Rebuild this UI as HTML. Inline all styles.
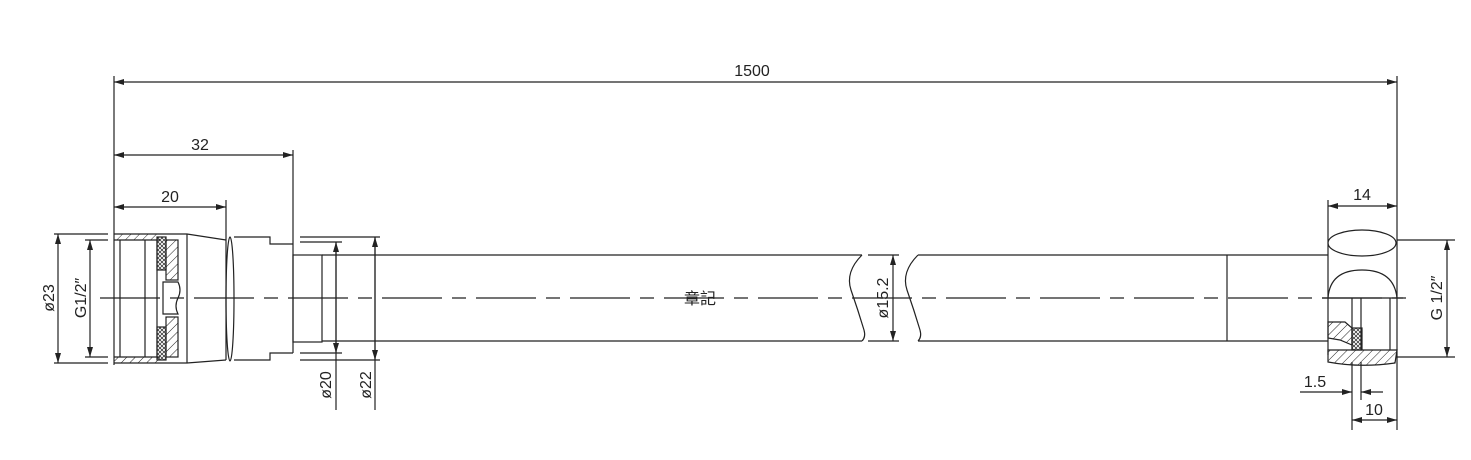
<!DOCTYPE html>
<html><head><meta charset="utf-8"><style>
html,body{margin:0;padding:0;background:#fff;}
svg{display:block;}
text{font-family:"Liberation Sans","Noto Sans CJK TC",sans-serif;fill:#222;font-size:16px;}
</style></head><body>
<svg width="1471" height="460" viewBox="0 0 1471 460" xmlns="http://www.w3.org/2000/svg">
<defs>
<pattern id="h" width="6" height="6" patternUnits="userSpaceOnUse" patternTransform="rotate(45)"><line x1="0" y1="0" x2="0" y2="6" stroke="#222" stroke-width="1"/></pattern>
<pattern id="m" width="4" height="4" patternUnits="userSpaceOnUse"><path d="M0 0L4 4M4 0L0 4" stroke="#222" stroke-width="0.7"/></pattern>
<marker id="a" viewBox="0 0 10 6" refX="10" refY="3" markerWidth="10" markerHeight="6" orient="auto-start-reverse" markerUnits="userSpaceOnUse"><path d="M0 0L10 3L0 6z" fill="#222"/></marker>
</defs>
<g stroke="#222" stroke-width="1.2" fill="none">
<!-- center line -->
<line x1="100" y1="298" x2="1410" y2="298" stroke-dasharray="60,10,14,10"/>
<!-- top dims -->
<line x1="114" y1="76" x2="114" y2="365"/>
<line x1="1397" y1="76" x2="1397" y2="430"/>
<line x1="114" y1="82" x2="1397" y2="82" marker-start="url(#a)" marker-end="url(#a)"/>
<line x1="293" y1="150" x2="293" y2="244"/>
<line x1="114" y1="155" x2="293" y2="155" marker-start="url(#a)" marker-end="url(#a)"/>
<line x1="226" y1="200" x2="226" y2="240"/>
<line x1="114" y1="207" x2="226" y2="207" marker-start="url(#a)" marker-end="url(#a)"/>
<!-- left diameters -->
<line x1="54" y1="234" x2="108" y2="234"/><line x1="54" y1="363" x2="108" y2="363"/>
<line x1="58" y1="234" x2="58" y2="363" marker-start="url(#a)" marker-end="url(#a)"/>
<line x1="85" y1="240" x2="108" y2="240"/><line x1="85" y1="357" x2="108" y2="357"/>
<line x1="90" y1="240" x2="90" y2="357" marker-start="url(#a)" marker-end="url(#a)"/>
<!-- left nut -->
<path d="M114 234 L187 234 L226 240 M114 363 L187 363 L226 360"/>
<line x1="114" y1="240" x2="160" y2="240"/><line x1="114" y1="357" x2="160" y2="357"/>
<rect x="114" y="234" width="46" height="6" fill="url(#h)" stroke="none"/>
<rect x="114" y="357" width="46" height="6" fill="url(#h)" stroke="none"/>
<line x1="120" y1="240" x2="120" y2="357"/>
<line x1="145" y1="240" x2="145" y2="357"/>
<line x1="157" y1="240" x2="157" y2="357"/>
<rect x="157" y="237" width="9" height="33" fill="url(#m)"/>
<rect x="157" y="327" width="9" height="33" fill="url(#m)"/>
<rect x="166" y="240" width="12" height="40" fill="url(#h)"/>
<rect x="166" y="317" width="12" height="40" fill="url(#h)"/>
<path d="M163 282 L178 282 Q182 290 178 298 Q174 306 178 314 L163 314 Z"/>
<line x1="187" y1="234" x2="187" y2="363"/>
<line x1="226" y1="240" x2="226" y2="360"/>
<ellipse cx="230" cy="299" rx="4" ry="62"/>
<!-- body -->
<path d="M234 237 L270 237 L270 244 L293 244 M234 360 L270 360 L270 353 L293 353"/>
<line x1="293" y1="244" x2="293" y2="353"/>
<rect x="293" y="255" width="29" height="87"/>
<!-- d20 d22 -->
<line x1="300" y1="242" x2="342" y2="242"/><line x1="300" y1="353" x2="342" y2="353"/>
<line x1="336" y1="242" x2="336" y2="410" /><line x1="336" y1="242" x2="336" y2="353" marker-start="url(#a)" marker-end="url(#a)"/>
<line x1="300" y1="237" x2="380" y2="237"/><line x1="300" y1="360" x2="380" y2="360"/>
<line x1="375" y1="237" x2="375" y2="410"/><line x1="375" y1="237" x2="375" y2="360" marker-start="url(#a)" marker-end="url(#a)"/>
<!-- hose -->
<line x1="322" y1="255" x2="862" y2="255"/><line x1="322" y1="341" x2="862" y2="341"/>
<path d="M862 255 Q845 272 851 290 Q858 310 864 330 Q866 337 862 341"/>
<line x1="868" y1="255" x2="899" y2="255"/><line x1="868" y1="341" x2="899" y2="341"/>
<line x1="893" y1="255" x2="893" y2="341" marker-start="url(#a)" marker-end="url(#a)"/>
<path d="M918 255 Q901 272 907 290 Q914 310 920 330 Q922 337 918 341"/>
<line x1="918" y1="255" x2="1328" y2="255"/><line x1="918" y1="341" x2="1328" y2="341"/>
<line x1="1227" y1="255" x2="1227" y2="341"/>
<!-- right fitting -->
<line x1="1328" y1="200" x2="1328" y2="355"/>
<line x1="1328" y1="206" x2="1397" y2="206" marker-start="url(#a)" marker-end="url(#a)"/>
<ellipse cx="1362" cy="243" rx="34" ry="13"/>
<path d="M1328 298 Q1330 270 1362 270 Q1394 270 1397 298"/>
<line x1="1322" y1="298" x2="1403" y2="298"/>
<line x1="1352" y1="298" x2="1352" y2="350"/><line x1="1361" y1="298" x2="1361" y2="350"/>
<line x1="1390" y1="298" x2="1390" y2="350"/>
<path d="M1328 355 L1328 362 Q1360 368 1395 363 L1397 350 L1328 350 Z" fill="url(#h)"/>
<path d="M1328 322 L1345 322 L1352 328 L1352 345 L1340 340 L1328 338 Z" fill="url(#h)"/>
<rect x="1352" y="328" width="10" height="22" fill="url(#m)"/>
<line x1="1397" y1="240" x2="1455" y2="240"/><line x1="1397" y1="357" x2="1455" y2="357"/>
<line x1="1447" y1="240" x2="1447" y2="357" marker-start="url(#a)" marker-end="url(#a)"/>
<line x1="1352" y1="362" x2="1352" y2="430"/><line x1="1361" y1="362" x2="1361" y2="400"/>
<line x1="1300" y1="392" x2="1352" y2="392" marker-end="url(#a)"/>
<line x1="1383" y1="392" x2="1361" y2="392" marker-end="url(#a)"/>
<line x1="1352" y1="420" x2="1397" y2="420" marker-start="url(#a)" marker-end="url(#a)"/>
</g>
<g>
<text x="752" y="76" text-anchor="middle">1500</text>
<text x="200" y="150" text-anchor="middle">32</text>
<text x="170" y="202" text-anchor="middle">20</text>
<text x="1362" y="200" text-anchor="middle">14</text>
<text x="1315" y="387" text-anchor="middle">1.5</text>
<text x="1374" y="415" text-anchor="middle">10</text>
<text x="700" y="304" text-anchor="middle">章記</text>
<text transform="translate(54,298) rotate(-90)" text-anchor="middle">ø23</text>
<text transform="translate(86,298) rotate(-90)" text-anchor="middle">G1/2″</text>
<text transform="translate(331,385) rotate(-90)" text-anchor="middle">ø20</text>
<text transform="translate(371,385) rotate(-90)" text-anchor="middle">ø22</text>
<text transform="translate(888,298) rotate(-90)" text-anchor="middle">ø15.2</text>
<text transform="translate(1442,298) rotate(-90)" text-anchor="middle">G 1/2″</text>
</g>
</svg>
</body></html>
